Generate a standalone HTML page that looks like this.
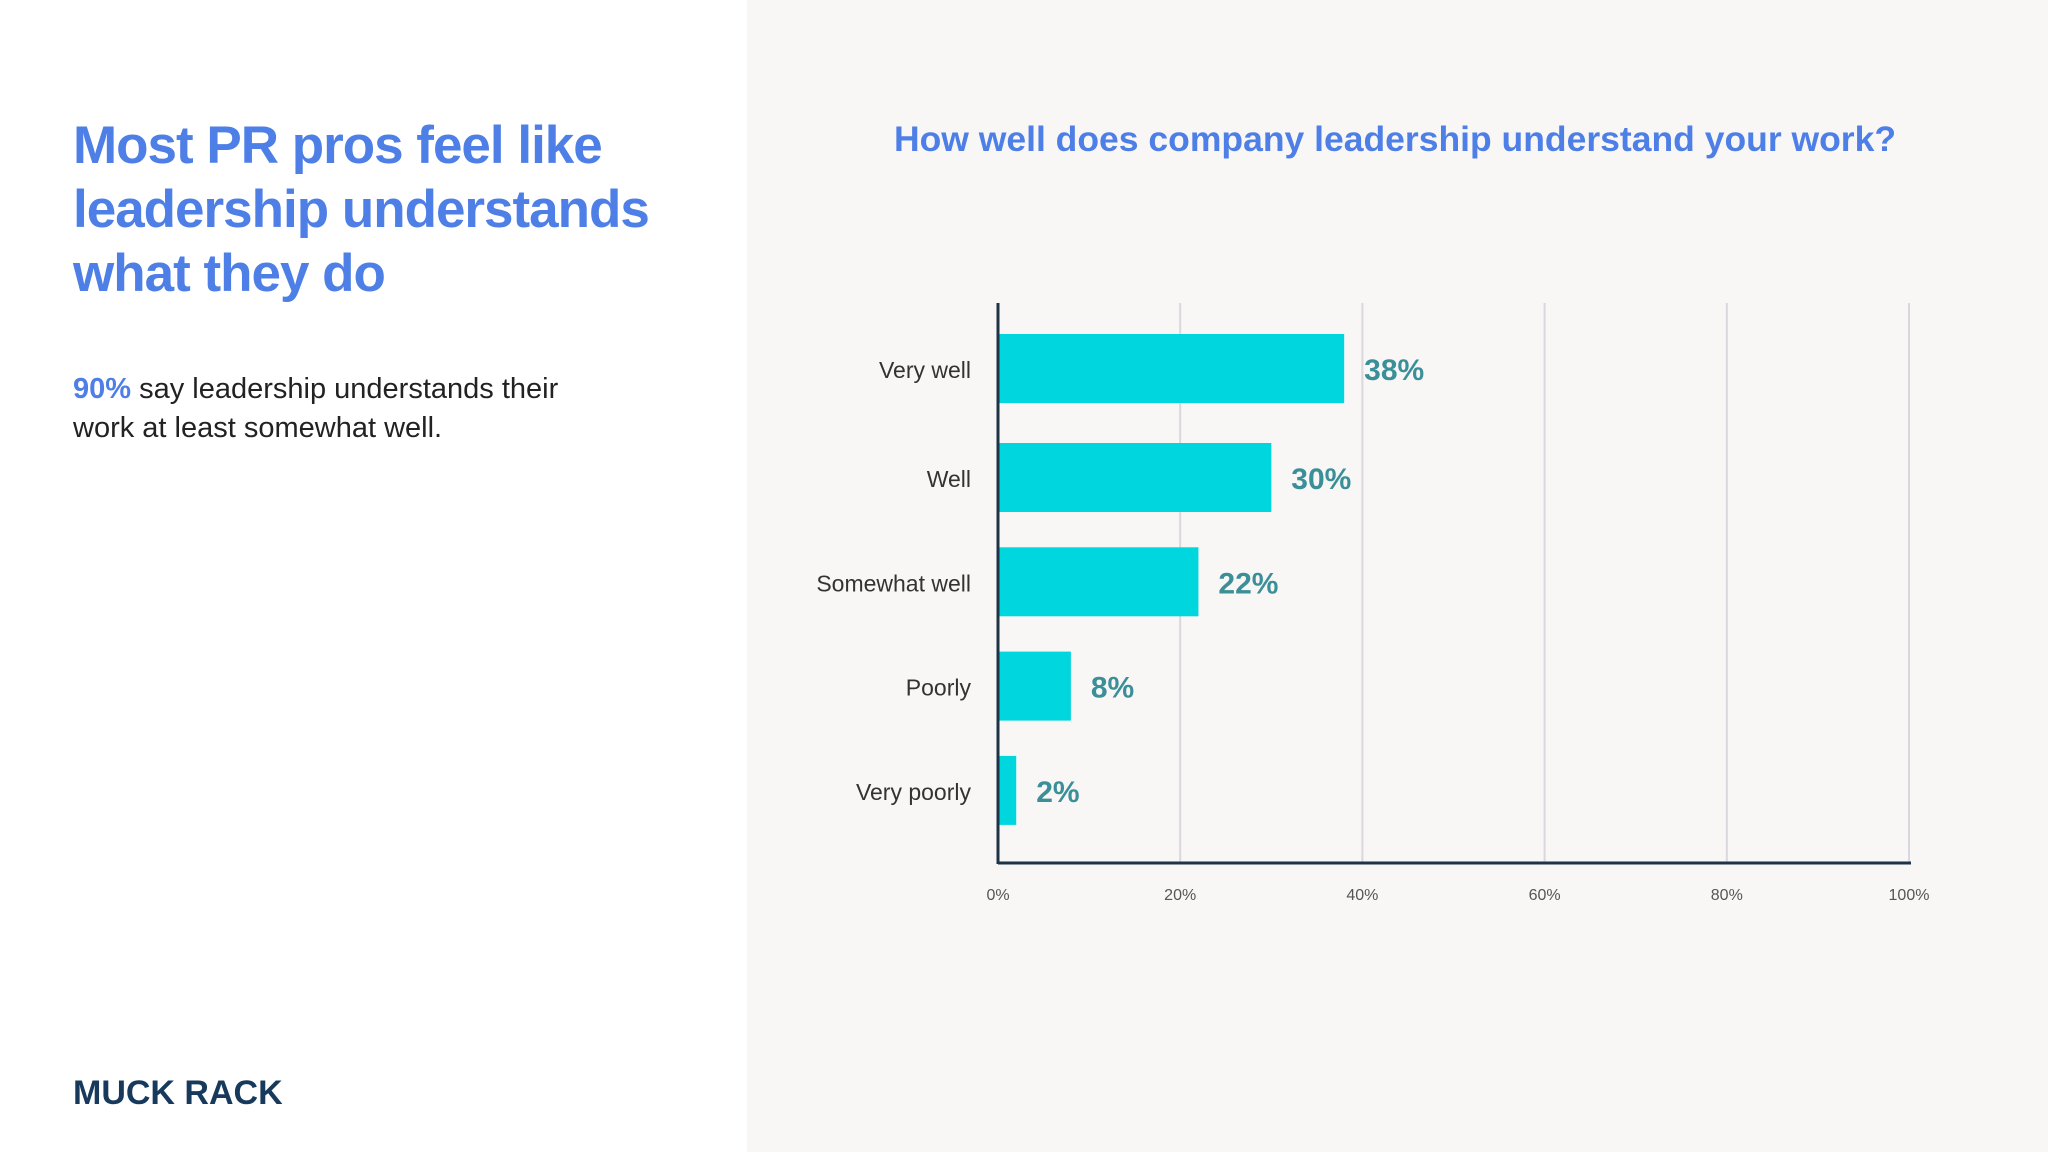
<!DOCTYPE html>
<html><head><meta charset="utf-8"><style>
body{margin:0;width:2048px;height:1152px;overflow:hidden;font-family:"Liberation Sans",sans-serif;background:#fff;position:relative}
#right{position:absolute;left:747px;top:0;width:1301px;height:1152px;background:#f8f7f6}
h1{position:absolute;left:73px;top:114px;margin:0;font-size:53px;line-height:64px;color:#4d7fe6;font-weight:bold;letter-spacing:-1px}
#sub{position:absolute;left:73px;top:370px;font-size:29px;line-height:39px;color:#222}
#sub b{color:#4d7fe6}
#logo{position:absolute;left:73px;top:1074px;font-size:34px;font-weight:900;color:#17395c;letter-spacing:0px}
svg{position:absolute;left:0;top:0}
</style></head><body>
<div id="right"></div>
<h1>Most PR pros feel like<br>leadership understands<br>what they do</h1>
<div id="sub"><b>90%</b> say leadership understands their<br>work at least somewhat well.</div>
<div id="logo">MUCK RACK</div>
<svg id="chart" width="2048" height="1152">
<text x="1395" y="151" text-anchor="middle" font-size="35.5" font-weight="bold" fill="#4d7fe6" font-family="Liberation Sans, sans-serif">How well does company leadership understand your work?</text>
</svg>
<script>
const categories=["Very well","Well","Somewhat well","Poorly","Very poorly"];
const values=[38,30,22,8,2];
const ticks=[0,20,40,60,80,100];
const tickLabels=["0%","20%","40%","60%","80%","100%"];
const svg=document.getElementById('chart');
const NS='http://www.w3.org/2000/svg';
const x0=998,x1=1909,yTop=303,yBot=863;
const xs=v=>x0+(x1-x0)*v/100;
const band=i=>i===0?334:443+(i-1)*104.3;
function el(t,a){const e=document.createElementNS(NS,t);for(const k in a)e.setAttribute(k,a[k]);svg.appendChild(e);return e;}
ticks.forEach((t,i)=>{
 if(t>0){const g=el('line',{x1:xs(t),x2:xs(t),y1:yTop,y2:yBot,stroke:'#d8d8de','stroke-width':2});
 
 }
 const l=el('text',{x:xs(t),y:900,'text-anchor':'middle','font-size':16,fill:'#555','font-family':'Liberation Sans, sans-serif'});
 l.textContent=tickLabels[i];
 
 
});
categories.forEach((c,i)=>{
 const y=band(i);
 const r=el('rect',{x:x0,y:y,width:xs(values[i])-x0,height:69,fill:'#00d6de'});
 
 
 const cl=el('text',{x:971,y:y+44,'text-anchor':'end','font-size':23,fill:'#333','font-family':'Liberation Sans, sans-serif'});
 cl.textContent=c;
 
 
 const vl=el('text',{x:xs(values[i])+20,y:y+46,'font-size':30,'font-weight':'bold',fill:'#3a8f98','font-family':'Liberation Sans, sans-serif'});
 vl.textContent=values[i]+'%';
 
 
});
const ya=el('line',{x1:x0,x2:x0,y1:yTop,y2:yBot+1,stroke:'#1f3347','stroke-width':3});


const xa=el('line',{x1:x0,x2:x1+2,y1:yBot,y2:yBot,stroke:'#1f3347','stroke-width':3});


</script>
</body></html>
